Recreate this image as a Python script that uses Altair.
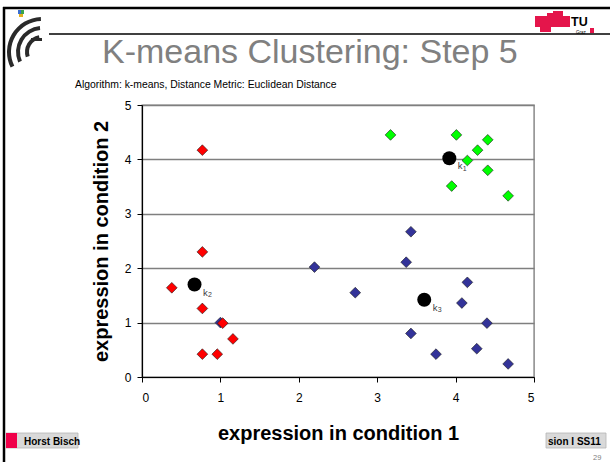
import altair as alt
import pandas as pd

# ---------------- data ----------------
blue_x = [1.00, 2.20, 2.72, 3.37, 3.43, 4.15, 4.08, 4.40, 3.43, 3.75, 4.27, 4.67]
blue_y = [1.00, 2.02, 1.55, 2.11, 2.67, 1.74, 1.36, 0.99, 0.80, 0.42, 0.52, 0.24]
green_x = [3.17, 4.01, 4.41, 4.28, 4.15, 4.41, 3.95, 4.67]
green_y = [4.45, 4.45, 4.36, 4.17, 3.98, 3.80, 3.51, 3.33]
red_x = [0.77, 0.77, 0.38, 0.77, 1.03, 1.16, 0.77, 0.96]
red_y = [4.17, 2.30, 1.64, 1.26, 0.99, 0.70, 0.42, 0.42]
centroid_x = [3.92, 0.67, 3.60]
centroid_y = [4.02, 1.70, 1.42]
centroid_sub = ["1", "2", "3"]
clusters = ["k3", "k1", "k2"]
cluster_colors = ["#333399", "#00ff00", "#ff0000"]
ticks = [0, 1, 2, 3, 4, 5]

rows = []
for xs, ys, c in [(blue_x, blue_y, "k3"), (green_x, green_y, "k1"), (red_x, red_y, "k2")]:
    for a, b in zip(xs, ys):
        rows.append({"x": a, "y": b, "cluster": c})
pts = pd.DataFrame(rows)
cent = pd.DataFrame({"x": centroid_x, "y": centroid_y, "sub": centroid_sub})

FONT = "Liberation Sans"
OX, OY = 142, 105          # plot origin in page pixels
W, H = 392, 272

dummy = pd.DataFrame({"d": [0]})


def rect(x1, y1, x2, y2, fill, stroke=None, sw=0):
    kw = dict(fill=fill)
    if stroke:
        kw.update(stroke=stroke, strokeWidth=sw)
    return alt.Chart(dummy).mark_rect(**kw).encode(
        x=alt.value(x1 - OX), x2=alt.value(x2 - OX),
        y=alt.value(y1 - OY), y2=alt.value(y2 - OY))


def rule(x1, y1, x2, y2, color, sw):
    return alt.Chart(dummy).mark_rule(color=color, strokeWidth=sw).encode(
        x=alt.value(x1 - OX), x2=alt.value(x2 - OX),
        y=alt.value(y1 - OY), y2=alt.value(y2 - OY))


def text(s, x, y, size, color="black", weight="normal", align="left",
         baseline="alphabetic", **kw):
    return alt.Chart(dummy).mark_text(
        text=s, font=FONT, fontSize=size, color=color, fontWeight=weight,
        align=align, baseline=baseline, **kw).encode(
        x=alt.value(x - OX), y=alt.value(y - OY))


def arc(cx, cy, r1, r2, t1, t2, color):
    return alt.Chart(dummy).mark_arc(color=color).encode(
        x=alt.value(cx - OX), y=alt.value(cy - OY),
        radius=alt.value(r2), radius2=alt.value(r1),
        theta=alt.value(t1), theta2=alt.value(t2))


deco = [
    # slide frame
    rule(3, 8, 610, 8, "black", 2.5),
    rule(4, 7, 4, 462, "black", 2.5),
    rule(49, 34, 610, 34, "black", 1.5),
    # left logo (approximation)
    arc(42, 52, 31, 35, 4.25, 6.25, "#2a2a2a"),
    arc(42, 52, 22, 26, 4.30, 6.20, "#2a2a2a"),
    arc(42, 52, 13, 17, 4.40, 6.10, "#2a2a2a"),
    rect(31, 38, 42, 41, "#2a2a2a"),
    rect(18, 10, 21, 14, "#3b6fd0"),
    rect(21, 10, 24, 14, "#3aa64a"),
    rect(19, 14, 23, 17, "#e0b020"),
    # TU Graz logo
    rect(535, 16, 548, 27, "#e4154b"),
    rect(540, 26, 551, 32, "#e4154b"),
    rect(547, 13, 559, 27, "#e4154b"),
    rect(553, 11, 563, 16, "#e4154b"),
    rect(558, 16, 570, 27, "#e4154b"),
    text("TU", 571, 26, 12.5, weight="bold"),
    text("Graz", 576, 33.5, 4.5),
    rect(590, 28, 594, 33, "#e4154b"),
    # title texts
    text("K-means Clustering: Step 5", 102, 63, 34, color="#808080"),
    text("Algorithm: k-means, Distance Metric: Euclidean Distance", 75, 88, 10.4),
    # footer
    rect(6, 433, 78, 448, "#d9d9d9", "#b5b5b5", 0.8),
    rect(6, 433, 17, 448, "#f0004a"),
    text("Horst Bisch", 24, 445, 10, weight="bold"),
    rect(546, 433, 606, 448, "#d9d9d9", "#b5b5b5", 0.8),
    text("sion I SS11", 548, 445, 10, weight="bold"),
    text("29", 593, 460, 7.5, color="#808080"),
]

xscale = alt.Scale(domain=[0, 5], nice=False, zero=False)
yscale = alt.Scale(domain=[0, 5], nice=False, zero=False)

xaxis = alt.Axis(values=ticks, format="d", grid=False, domainColor="black", domainWidth=1.2,
                 tickColor="black", tickSize=5, labelFont=FONT, labelFontSize=12,
                 labelColor="black", labelPadding=10,
                 title="expression in condition 1", titleFont=FONT, titleFontSize=20,
                 titleFontWeight="bold", titleColor="black", titleX=W / 2, titleY=62,
                 titleBaseline="alphabetic", titleAlign="center")
yaxis = alt.Axis(values=ticks, format="d", grid=True, gridColor="#7f7f7f", gridWidth=1.4,
                 domainColor="black", domainWidth=1.2, tickColor="black", tickSize=5,
                 labelFont=FONT, labelFontSize=12, labelColor="black", labelPadding=6,
                 title="expression in condition 2", titleFont=FONT, titleFontSize=20,
                 titleFontWeight="bold", titleColor="black", titleX=-35, titleY=H / 2,
                 titleAngle=270, titleBaseline="alphabetic", titleAlign="center")

points = alt.Chart(pts).mark_point(shape="diamond", filled=True, size=115,
                                   stroke="#1a1a1a", strokeWidth=0.6, opacity=1).encode(
    x=alt.X("x:Q", scale=xscale, axis=xaxis),
    y=alt.Y("y:Q", scale=yscale, axis=yaxis),
    fill=alt.Fill("cluster:N", scale=alt.Scale(domain=clusters, range=cluster_colors),
                  legend=None),
)

centroids = alt.Chart(cent).mark_circle(size=195, color="black", opacity=1).encode(
    x=alt.X("x:Q", scale=xscale), y=alt.Y("y:Q", scale=yscale))

klabel = alt.Chart(cent).mark_text(text="k", font=FONT, fontSize=9.5, color="#404040",
                                   align="left", baseline="alphabetic", dx=8.5, dy=11).encode(
    x=alt.X("x:Q", scale=xscale), y=alt.Y("y:Q", scale=yscale))
ksub = alt.Chart(cent).mark_text(font=FONT, fontSize=7, color="#404040",
                                 align="left", baseline="alphabetic", dx=13.5, dy=12.5).encode(
    x=alt.X("x:Q", scale=xscale), y=alt.Y("y:Q", scale=yscale), text="sub:N")

chart = alt.layer(*deco, points, centroids, klabel, ksub).properties(
    width=W, height=H,
    autosize=alt.AutoSizeParams(type="none"),
    padding={"left": OX, "top": OY, "right": 610 - OX - W, "bottom": 462 - OY - H},
    background="white",
).configure_view(stroke="#808080", strokeWidth=1.4)

chart.save("out.html", embed_options={"renderer": "svg", "actions": False})
